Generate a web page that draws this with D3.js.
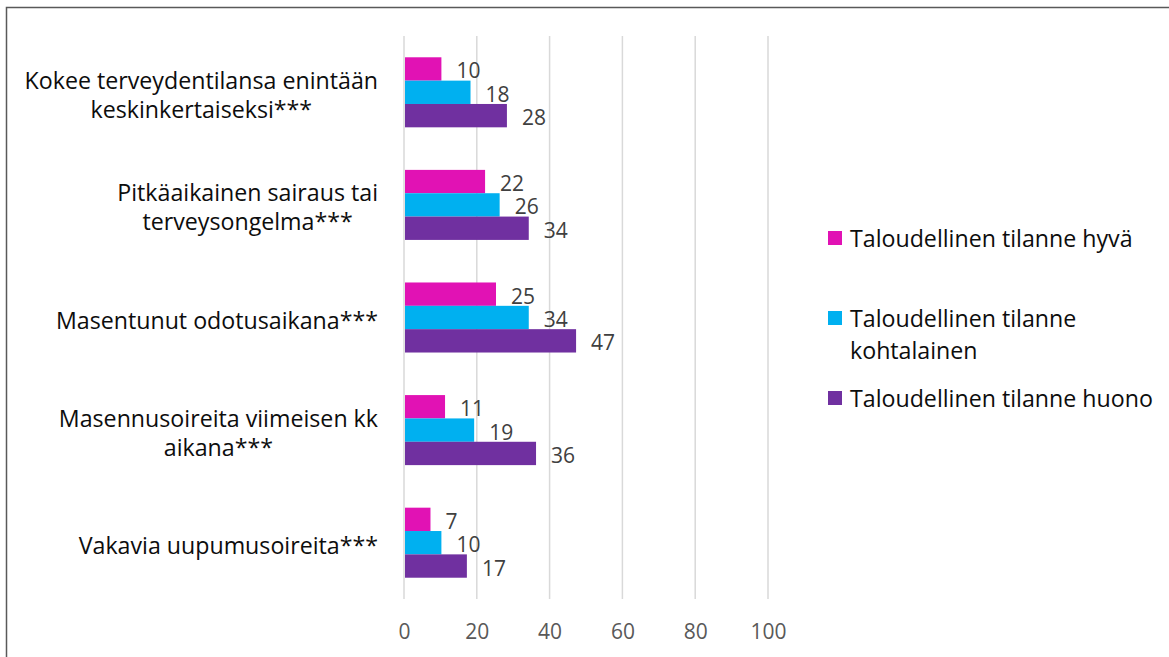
<!DOCTYPE html>
<html>
<head>
<meta charset="utf-8">
<script src="https://cdnjs.cloudflare.com/ajax/libs/d3/7.8.5/d3.min.js"></script>
<style>
  body { margin: 0; background: #fff; }
  svg { display: block; }
</style>
</head>
<body>
<script>
'use strict';

// categories, each label split into lines as in the reference
const categories = [
  ["Kokee terveydentilansa enintään", "keskinkertaiseksi***"],
  ["Pitkäaikainen sairaus tai", "terveysongelma***"],
  ["Masentunut odotusaikana***"],
  ["Masennusoireita viimeisen kk", "aikana***"],
  ["Vakavia uupumusoireita***"]
];

const seriesNames = [
  ["Taloudellinen tilanne hyvä"],
  ["Taloudellinen tilanne", "kohtalainen"],
  ["Taloudellinen tilanne huono"]
];
const seriesColors = ["#E112B4", "#00B0F0", "#7030A0"];

// values per series, in category order
const hyva = [10, 22, 25, 11, 7];
const kohtalainen = [18, 26, 34, 19, 10];
const huono = [28, 34, 47, 36, 17];
const seriesValues = [hyva, kohtalainen, huono];

const xTicks = [0, 20, 40, 60, 80, 100];

const width = 1169, height = 657;
const font = "'Open Sans', sans-serif";
const fs = '23.2px';    // category + legend text
const numFs = '21px';   // numbers

const svg = d3.select('body').append('svg')
  .attr('width', width)
  .attr('height', height)
  .style('font-family', font);

// chart border
svg.append('rect')
  .attr('x', 6.5).attr('y', 7.5)
  .attr('width', width + 10).attr('height', height + 10)
  .attr('fill', 'none')
  .attr('stroke', '#595959')
  .attr('stroke-width', 1.5);

const xScale = d3.scaleLinear().domain([0, 100]).range([404, 768]);

const yScale = d3.scaleBand()
  .domain(d3.range(categories.length))
  .range([36, 599])
  .paddingInner(0.378)
  .paddingOuter(0.189);

const inner = d3.scaleBand()
  .domain(d3.range(seriesValues.length))
  .range([0, yScale.bandwidth()]);

// gridlines
svg.append('g')
  .selectAll('line')
  .data(xTicks)
  .enter()
  .append('line')
    .attr('x1', d => xScale(d)).attr('x2', d => xScale(d))
    .attr('y1', 36).attr('y2', 599)
    .attr('stroke', '#D9D9D9')
    .attr('stroke-width', 1.5);

// x axis labels
let xAxis = d3.axisBottom(xScale).tickValues(xTicks).tickSize(0).tickPadding(0);
let gx = svg.append('g')
  .attr('transform', 'translate(0, 620)')
  .call(xAxis);
gx.select('.domain').remove();
gx.selectAll('text')
  .attr('dy', null)
  .attr('y', 11)
  .attr('dominant-baseline', 'central')
  .style('font-family', font)
  .style('font-size', numFs)
  .attr('fill', '#595959');

// bars
seriesValues.forEach((vals, s) => {
  svg.append('g')
    .selectAll('rect')
    .data(vals)
    .enter()
    .append('rect')
      .attr('x', xScale(0) + 1)
      .attr('y', (d, i) => yScale(i) + inner(s))
      .attr('width', d => xScale(d) - xScale(0))
      .attr('height', inner.bandwidth())
      .attr('fill', seriesColors[s]);

  svg.append('g')
    .selectAll('text')
    .data(vals)
    .enter()
    .append('text')
      .attr('x', d => xScale(d) + 16)
      .attr('y', (d, i) => yScale(i) + inner(s) + inner.bandwidth() / 2 + 1.5)
      .attr('dominant-baseline', 'central')
      .style('font-size', numFs)
      .attr('fill', '#404040')
      .text(d => d);
});

// category labels: lines centered on each other, block right-aligned
const lineH = 29;
categories.forEach((lines, i) => {
  let cy = yScale(i) + yScale.bandwidth() / 2 + 2;
  let g = svg.append('g');
  let texts = g.selectAll('text')
    .data(lines)
    .enter()
    .append('text')
      .attr('y', (d, k) => cy + (k - (lines.length - 1) / 2) * lineH)
      .attr('dominant-baseline', 'central')
      .attr('text-anchor', 'middle')
      .style('font-size', fs)
      .attr('fill', '#0D0D0D')
      .text(d => d);
  let maxW = d3.max(texts.nodes(), n => n.getComputedTextLength());
  texts.attr('x', 378 - maxW / 2);
});

// legend
const legendY = [238, 318, 398];
seriesNames.forEach((lines, s) => {
  let g = svg.append('g').attr('transform', `translate(828, ${legendY[s]})`);
  g.append('rect')
    .attr('x', 0).attr('y', -7)
    .attr('width', 14).attr('height', 14)
    .attr('fill', seriesColors[s]);
  g.selectAll('text')
    .data(lines)
    .enter()
    .append('text')
      .attr('x', 22)
      .attr('y', (d, k) => k * 32)
      .attr('dominant-baseline', 'central')
      .style('font-size', fs)
      .attr('fill', '#0D0D0D')
      .text(d => d);
});
</script>
</body>
</html>
